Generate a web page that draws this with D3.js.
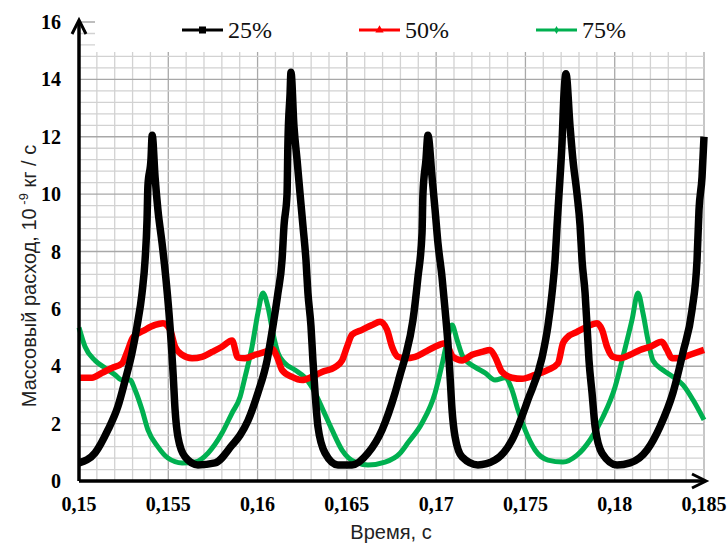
<!DOCTYPE html>
<html>
<head>
<meta charset="utf-8">
<script src="https://cdn.jsdelivr.net/npm/d3@7"></script>
<style>
body { margin: 0; background: #fff; }
</style>
</head>
<body>
<div id="canvas"></div>
<script>
// ряды данных: время (с) и массовый расход (10^-9 кг/с)
var seriesNames = ["25%", "50%", "75%"];
var seriesColors = ["#000000", "#ff0000", "#00b050"];
var xTicks = [0.15, 0.155, 0.16, 0.165, 0.17, 0.175, 0.18, 0.185];
var yTicks = [0, 2, 4, 6, 8, 10, 12, 14, 16];

var t25 = [0.15000, 0.15090, 0.15162, 0.15218, 0.15258, 0.15297, 0.15325, 0.15353, 0.15370, 0.15381, 0.15386, 0.15403, 0.15410,
    0.15426, 0.15442, 0.15465, 0.15486, 0.15504, 0.15519, 0.15528, 0.15538, 0.15554, 0.15594, 0.15666, 0.15762, 0.15857,
    0.15902, 0.15946, 0.16002, 0.16053, 0.16086, 0.16114, 0.16137, 0.16148, 0.16165, 0.16170, 0.16182, 0.16187,
    0.16204, 0.16221, 0.16238, 0.16254, 0.16271, 0.16282, 0.16299, 0.16310, 0.16322, 0.16338, 0.16378, 0.16450,
    0.16529, 0.16618, 0.16697, 0.16770, 0.16798, 0.16826, 0.16870, 0.16898, 0.16921, 0.16926, 0.16943, 0.16954,
    0.16977, 0.16994, 0.17010, 0.17033, 0.17050, 0.17066, 0.17078, 0.17089, 0.17106, 0.17145, 0.17234, 0.17330,
    0.17425, 0.17514, 0.17593, 0.17626, 0.17649, 0.17666, 0.17677, 0.17688, 0.17705, 0.17716, 0.17727,
    0.17750, 0.17766, 0.17789, 0.17806, 0.17817, 0.17834, 0.17845, 0.17856, 0.17873, 0.17890, 0.17929, 0.18013,
    0.18086, 0.18181, 0.18254, 0.18326, 0.18382, 0.18433, 0.18461, 0.18472, 0.18489, 0.18500];
var v25 = [0.63, 0.98, 1.78, 2.6, 3.5, 4.47, 5.4, 6.55, 7.7, 9.1, 10.3, 11.2, 12.05,
    10.6, 9.45, 8.3, 7.1, 5.85, 4.57, 3.63, 2.48, 1.54, 0.84, 0.56, 0.63, 1.25,
    1.6, 2.1, 3.07, 4.2, 5.4, 6.55, 7.7, 8.9, 10.0, 11.8, 13.5, 14.25,
    12.35, 11.2, 10.0, 8.9, 7.7, 6.55, 5.4, 4.2, 3.07, 1.9, 0.97, 0.56,
    0.56, 0.97, 1.78, 3.07, 3.7, 4.3, 5.6, 7.1, 8.65, 10.0, 11.2, 12.05,
    10.6, 9.45, 8.3, 7.1, 5.97, 4.8, 3.63, 2.48, 1.54, 0.84, 0.56, 0.73,
    1.43, 2.83, 4.3, 5.4, 6.55, 7.7, 8.9, 10.0, 11.8, 13.5, 14.2,
    12.35, 11.2, 10.0, 8.9, 7.7, 6.55, 5.4, 4.2, 3.07, 1.9, 0.97, 0.56,
    0.63, 1.08, 1.9, 3.07, 4.47, 5.97, 7.7, 9.45, 10.6, 12.0];

var t50 = [0.15000, 0.15073, 0.15129, 0.15185, 0.15241, 0.15274, 0.15302, 0.15370, 0.15426, 0.15470, 0.15510, 0.15538,
    0.15577, 0.15633, 0.15689, 0.15745, 0.15801, 0.15857, 0.15890, 0.15930, 0.15986, 0.16042, 0.16081, 0.16109,
    0.16137, 0.16193, 0.16249, 0.16305, 0.16361, 0.16434, 0.16473, 0.16501, 0.16529, 0.16585, 0.16641, 0.16686,
    0.16725, 0.16753, 0.16786, 0.16826, 0.16882, 0.16938, 0.16994, 0.17050, 0.17066, 0.17094, 0.17145, 0.17201,
    0.17257, 0.17302, 0.17330, 0.17369, 0.17425, 0.17481, 0.17554, 0.17626, 0.17682, 0.17710, 0.17733, 0.17789,
    0.17845, 0.17901, 0.17929, 0.17957, 0.17990, 0.18030, 0.18086, 0.18142, 0.18198, 0.18264, 0.18293, 0.18321,
    0.18366, 0.18422, 0.18500];
var v50 = [3.6, 3.6, 3.77, 3.94, 4.1, 4.57, 5.0, 5.27, 5.44, 5.5, 5.27, 4.68,
    4.4, 4.28, 4.33, 4.5, 4.68, 4.9, 4.3, 4.28, 4.4, 4.5, 4.6, 4.33,
    3.87, 3.63, 3.52, 3.63, 3.8, 3.97, 4.2, 4.68, 5.1, 5.27, 5.44, 5.55,
    5.27, 4.68, 4.33, 4.28, 4.33, 4.5, 4.68, 4.8, 4.68, 4.33, 4.2, 4.4,
    4.5, 4.57, 4.33, 3.8, 3.6, 3.56, 3.7, 3.87, 4.1, 4.8, 5.0, 5.2,
    5.38, 5.5, 5.27, 4.68, 4.33, 4.28, 4.4, 4.57, 4.68, 4.85, 4.57, 4.28,
    4.28, 4.4, 4.57];

var t75 = [0.15000, 0.15034, 0.15090, 0.15146, 0.15202, 0.15241, 0.15286, 0.15314, 0.15353, 0.15386, 0.15442, 0.15498,
    0.15577, 0.15650, 0.15722, 0.15801, 0.15857, 0.15902, 0.15930, 0.15969, 0.16002, 0.16030, 0.16058, 0.16086,
    0.16114, 0.16154, 0.16210, 0.16266, 0.16322, 0.16366, 0.16417, 0.16473, 0.16546, 0.16618, 0.16714, 0.16798,
    0.16842, 0.16921, 0.16994, 0.17038, 0.17066, 0.17089, 0.17117, 0.17150, 0.17218, 0.17274, 0.17330, 0.17386,
    0.17425, 0.17458, 0.17498, 0.17554, 0.17626, 0.17710, 0.17789, 0.17862, 0.17934, 0.18002, 0.18046, 0.18097,
    0.18130, 0.18158, 0.18186, 0.18214, 0.18270, 0.18326, 0.18382, 0.18438, 0.18500];
var v75 = [5.35, 4.68, 4.2, 3.94, 3.7, 3.52, 3.52, 3.17, 2.48, 1.78, 1.19, 0.8,
    0.63, 0.66, 0.97, 1.67, 2.37, 2.93, 3.63, 4.68, 5.86, 6.55, 6.07, 5.16,
    4.47, 4.1, 3.87, 3.6, 3.07, 2.48, 1.78, 1.08, 0.66, 0.56, 0.66, 0.97,
    1.33, 2.02, 3.07, 4.2, 5.0, 5.44, 4.92, 4.33, 3.97, 3.77, 3.52, 3.6,
    3.17, 2.48, 1.78, 1.08, 0.73, 0.66, 0.9, 1.43, 2.23, 3.28, 4.33, 5.62,
    6.55, 5.86, 4.92, 4.2, 3.87, 3.63, 3.35, 2.83, 2.13];

var Chart = (function() {
    var that = { svg: null, x: null, y: null };
    var W = 728, H = 544;
    var left = 79, right = 704, top = 22, bottom = 481;
    var minor = "#d2d2d2", major = "#a8a8a8";
    var serif = "Liberation Serif, Times New Roman, serif";
    var sans = "Liberation Sans, Arial, sans-serif";

    that.init = function() {
        that.svg = d3.select("#canvas").append("svg").attr("width", W).attr("height", H);
        that.x = d3.scaleLinear().domain([0.15, 0.185]).range([left, right]);
        that.y = d3.scaleLinear().domain([0, 16]).range([bottom, top]);
    };

    that.grid = function() {
        var x = that.x, y = that.y;
        var g = that.svg.append("g").attr("name", "grid");
        var vMinor = d3.range(0, 36).map(i => 0.15 + i * 0.001);
        var hMinor = d3.range(0, 41).map(i => i * 0.4);

        g.selectAll("line.vm").data(vMinor).enter().append("line")
            .attr("x1", d => x(d)).attr("x2", d => x(d))
            .attr("y1", top).attr("y2", bottom)
            .attr("stroke", (d, i) => i % 5 == 0 ? major : minor)
            .attr("stroke-width", 1.3);
        g.selectAll("line.hm").data(hMinor).enter().append("line")
            .attr("x1", left).attr("x2", right)
            .attr("y1", d => y(d)).attr("y2", d => y(d))
            .attr("stroke", (d, i) => i % 5 == 0 ? major : minor)
            .attr("stroke-width", 1.3);
    };

    that.lines = function() {
        var x = that.x, y = that.y;
        var g = that.svg.append("g").attr("name", "series");
        var data = [
            { name: seriesNames[2], t: t75, v: v75, color: seriesColors[2], w: 5 },
            { name: seriesNames[1], t: t50, v: v50, color: seriesColors[1], w: 6.5 },
            { name: seriesNames[0], t: t25, v: v25, color: seriesColors[0], w: 7.5 }
        ];
        var line = d3.line().x(d => x(d[0])).y(d => y(d[1])).curve(d3.curveMonotoneX);
        data.forEach(function(s) {
            var pts = s.t.map((t, i) => [t, s.v[i]]);
            g.append("path")
                .attr("fill", "none")
                .attr("stroke", s.color)
                .attr("stroke-width", s.w)
                .attr("stroke-linejoin", "round")
                .attr("d", line(pts));
        });
    };

    that.axes = function() {
        var x = that.x, y = that.y;
        var fmt = d3.formatLocale({ decimal: ",", thousands: " ", grouping: [3], currency: ["", ""] }).format("~g");

        // белая подложка легенды поверх сетки
        that.svg.append("rect").attr("x", 95).attr("y", 0).attr("width", right - 95 + 2).attr("height", 52).attr("fill", "#fff");

        var ax = that.svg.append("g").attr("name", "axes");
        ax.append("path").attr("fill", "none").attr("stroke", "#000").attr("stroke-width", 3.5)
            .attr("d", "M" + left + "," + bottom + "V" + (top - 1));
        ax.append("path").attr("fill", "none").attr("stroke", "#000").attr("stroke-width", 3)
            .attr("d", "M" + (left - 7) + "," + (top + 12) + "L" + left + "," + (top - 2) + "L" + (left + 7) + "," + (top + 12));
        ax.append("path").attr("fill", "none").attr("stroke", "#000").attr("stroke-width", 3.5)
            .attr("d", "M" + left + "," + bottom + "H" + (right + 1));
        ax.append("path").attr("fill", "none").attr("stroke", "#000").attr("stroke-width", 3)
            .attr("d", "M" + (right - 12) + "," + (bottom - 7) + "L" + (right + 2) + "," + bottom + "L" + (right - 12) + "," + (bottom + 7));

        ax.selectAll("text.xt").data(xTicks).enter().append("text")
            .attr("x", d => x(d)).attr("y", bottom + 30)
            .attr("text-anchor", "middle")
            .style("font-family", serif).style("font-weight", "bold").style("font-size", "20px")
            .text(d => fmt(d));
        ax.selectAll("text.yt").data(yTicks).enter().append("text")
            .attr("x", left - 18).attr("y", d => y(d) + 7)
            .attr("text-anchor", "end")
            .style("font-family", serif).style("font-weight", "bold").style("font-size", "20px")
            .text(d => fmt(d));

        that.svg.append("text")
            .attr("x", 391).attr("y", 539)
            .attr("text-anchor", "middle")
            .style("font-family", sans).style("font-size", "20px").style("fill", "#222")
            .text("Время, с");

        var yl = that.svg.append("text")
            .attr("transform", "translate(36,276) rotate(-90)")
            .attr("text-anchor", "middle")
            .style("font-family", sans).style("font-size", "20px").style("fill", "#222");
        yl.append("tspan").text("Массовый расход, 10");
        yl.append("tspan").attr("dy", -8).style("font-size", "13px").text(" -9");
        yl.append("tspan").attr("dy", 8).text("  кг / с");
    };

    that.legend = function() {
        var g = that.svg.append("g").attr("name", "legend");
        var xs = [182, 359, 536];
        seriesNames.forEach(function(name, i) {
            var item = g.append("g").attr("transform", "translate(" + xs[i] + ",30)");
            item.append("line").attr("x1", 0).attr("x2", 41).attr("y1", 0).attr("y2", 0)
                .attr("stroke", seriesColors[i]).attr("stroke-width", 3);
            if (i == 0) {
                item.append("rect").attr("x", 17).attr("y", -3.5).attr("width", 7).attr("height", 7).attr("fill", "#000");
            } else if (i == 1) {
                item.append("path").attr("d", d3.symbol(d3.symbolTriangle, 30)()).attr("transform", "translate(20.5,0)").attr("fill", seriesColors[i]);
            } else {
                item.append("path").attr("d", d3.symbol(d3.symbolDiamond, 18)()).attr("transform", "translate(20.5,0)").attr("fill", seriesColors[i]);
            }
            item.append("text").attr("x", 46).attr("y", 8)
                .style("font-family", serif).style("font-size", "24px").style("fill", "#111")
                .text(name);
        });
    };

    return that;
})();

Chart.init();
Chart.grid();
Chart.lines();
Chart.axes();
Chart.legend();
</script>
</body>
</html>
